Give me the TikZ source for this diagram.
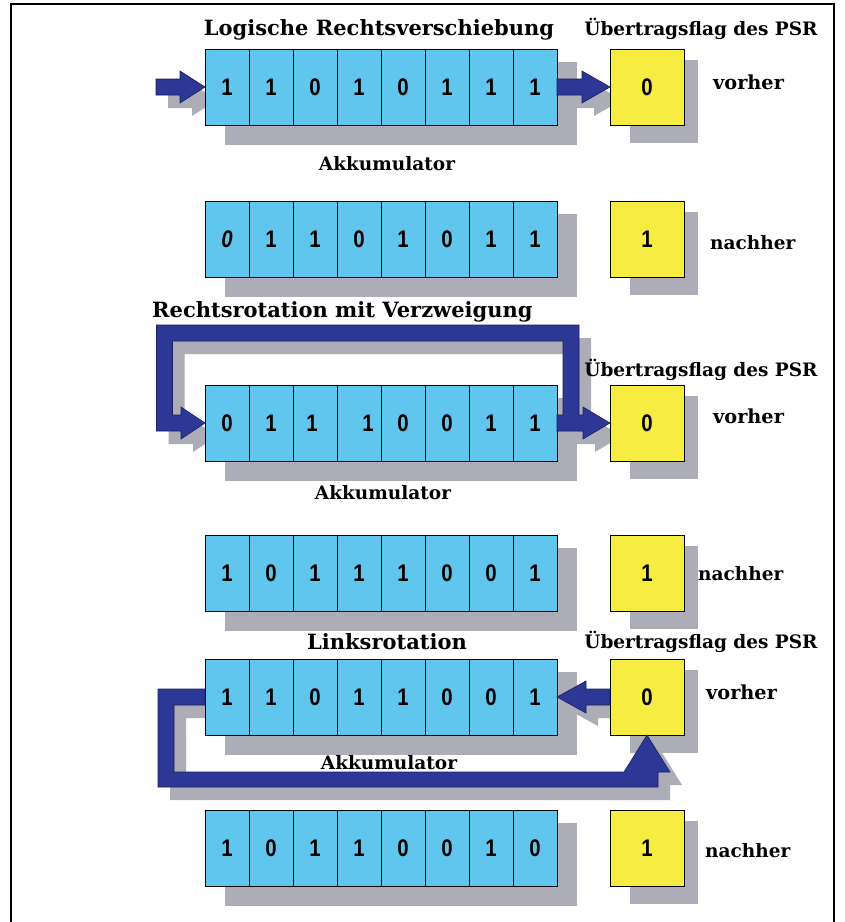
\documentclass[tikz,border=0pt]{standalone}
\usepackage{fontspec}
\newfontfamily\titlefont{DejaVu Serif}
\newfontfamily\digitfont{Liberation Sans}[FakeStretch=0.85]
\definecolor{regblue}{RGB}{96,198,238}
\definecolor{flagyel}{RGB}{246,236,66}
\definecolor{arrblue}{RGB}{45,55,150}
\definecolor{arrdark}{RGB}{25,30,95}
\definecolor{shadowc}{RGB}{172,173,182}
\newcommand\regrow[4]{%
  % #1 prefix, #2 top y
  \fill[shadowc] (225,#2+13) rectangle (577,#2+96);
  \fill[shadowc] (630,#2+11) rectangle (698,#2+94);
}
\newcommand\regboxes[4]{%
  \foreach \d [count=\i from 0] in {#3} {
    \node[cell] (#1c\i) at ({227+44*\i},{#2+38}) {\d};
  }
  \node[flagbox] (#1f) at (647,{#2+38}) {#4};
}
\begin{document}
\begin{tikzpicture}[x=1pt,y=-1pt,
  cell/.style={draw=black, line width=0.8pt, fill=regblue, minimum width=44pt,
    minimum height=76pt, inner sep=0pt, outer sep=0pt,
    font=\digitfont\bfseries\fontsize{24}{25}\selectfont},
  flagbox/.style={cell, fill=flagyel, minimum width=74pt},
  lbl/.style={inner sep=0pt, font=\titlefont\bfseries\fontsize{21}{23}\selectfont},
  lbltwo/.style={inner sep=0pt, font=\titlefont\bfseries\fontsize{18.5}{20}\selectfont},
  lblthree/.style={inner sep=0pt, font=\titlefont\bfseries\fontsize{19.3}{21}\selectfont},
  arrowfill/.style={fill=arrblue, draw=arrdark, line width=0.6pt, line join=miter},
  arrowshadow/.style={fill=shadowc, shift={(12,13)}}
]
\useasboundingbox (0,0) rectangle (845,922);
\fill[white] (0,0) rectangle (845,922);
\draw[line width=1.5pt] (11,922) -- (11,4) -- (834,4) -- (834,922);

% ---------- Row 1 : vorher ----------
\regrow{r1}{49}{}{}
\fill[arrowshadow] (156,79)--(180,79)--(180,71)--(205,87)--(180,103)--(180,95)--(156,95)--cycle;
\fill[arrowshadow] (557,79)--(582,79)--(582,71)--(610,87)--(582,103)--(582,95)--(557,95)--cycle;
\regboxes{r1}{49}{1,1,0,1,0,1,1,1}{0}
\filldraw[arrowfill] (156,79)--(180,79)--(180,71)--(r1c0.west)--(180,103)--(180,95)--(156,95)--cycle;
\filldraw[arrowfill] (r1c7.east |- 0,79)--(582,79)--(582,71)--(r1f.west)--(582,103)--(582,95)--(r1c7.east |- 0,95)--cycle;

% ---------- Row 2 : nachher ----------
\regrow{r2}{201}{}{}
\regboxes{r2}{201}{{\itshape 0},1,1,0,1,0,1,1}{1}

% ---------- Row 3 : vorher ----------
\regrow{r3}{385}{}{}
\fill[arrowshadow] (557,415)--(563,415)--(563,341)--(172.5,341)--(172.5,415)--(181,415)--(181,407)--(205,423)--(181,439)--(181,431)--(156.5,431)--(156.5,325)--(579,325)--(579,415)--(583,415)--(583,407)--(610,423)--(583,439)--(583,431)--(557,431)--cycle;
\regboxes{r3}{385}{0,1,\kern-6pt 1,\kern18pt 1,0,0,1,1}{0}
\filldraw[arrowfill] (r3c7.east |- 0,415)--(563,415)--(563,341)--(172.5,341)--(172.5,415)--(181,415)--(181,407)--(r3c0.west)--(181,439)--(181,431)--(156.5,431)--(156.5,325)--(579,325)--(579,415)--(583,415)--(583,407)--(r3f.west)--(583,439)--(583,431)--(r3c7.east |- 0,431)--cycle;

% ---------- Row 4 : nachher ----------
\regrow{r4}{535}{}{}
\regboxes{r4}{535}{1,0,1,1,1,0,0,1}{1}

% ---------- Row 5 : vorher ----------
\regrow{r5}{659}{}{}
\fill[arrowshadow] (610,689)--(586,689)--(586,681)--(557,697)--(586,713)--(586,705)--(610,705)--cycle;
\fill[arrowshadow] (205,689)--(158,689)--(158,787)--(658,787)--(658,772)--(670,772)--(647,735)--(624,772)--(174,772)--(174,705)--(205,705)--cycle;
\regboxes{r5}{659}{1,1,0,1,1,0,0,1}{0}
\filldraw[arrowfill] (r5f.west |- 0,689)--(586,689)--(586,681)--(r5c7.east)--(586,713)--(586,705)--(r5f.west |- 0,705)--cycle;
\filldraw[arrowfill] (r5c0.west |- 0,689)--(158,689)--(158,787)--(658,787)--(658,772)--(670,772)--(r5f.south)--(624,772)--(174,772)--(174,705)--(r5c0.west |- 0,705)--cycle;

% ---------- Row 6 : nachher ----------
\regrow{r6}{810}{}{}
\regboxes{r6}{810}{1,0,1,1,0,0,1,0}{1}

% ---------- Texts ----------
\node[lbl, anchor=base] (t1) at (379,35) {Logische Rechtsverschiebung};
\node[lbltwo, anchor=base] (u1) at (701,35) {Übertragsflag des PSR};
\node[lbltwo, anchor=base] (a1) at (387,170) {Akkumulator};
\node[lblthree, anchor=base west] (v1) at (713,89) {vorher};
\node[lbltwo, anchor=base west] (n2) at (710,249) {nachher};
\node[lbl, anchor=base west] (t2) at (152,317) {Rechtsrotation mit Verzweigung};
\node[lbltwo, anchor=base] (u3) at (701,376) {Übertragsflag des PSR};
\node[lblthree, anchor=base west] (v3) at (713,423) {vorher};
\node[lbltwo, anchor=base] (a3) at (383,499) {Akkumulator};
\node[lbltwo, anchor=base west] (n4) at (698,580) {nachher};
\node[lbl, anchor=base] (t5) at (387,649) {Linksrotation};
\node[lbltwo, anchor=base] (u5) at (701,648) {Übertragsflag des PSR};
\node[lblthree, anchor=base west] (v5) at (706,699) {vorher};
\node[lbltwo, anchor=base] (a5) at (389,769) {Akkumulator};
\node[lbltwo, anchor=base west] (n6) at (705,857) {nachher};
\end{tikzpicture}
\end{document}
